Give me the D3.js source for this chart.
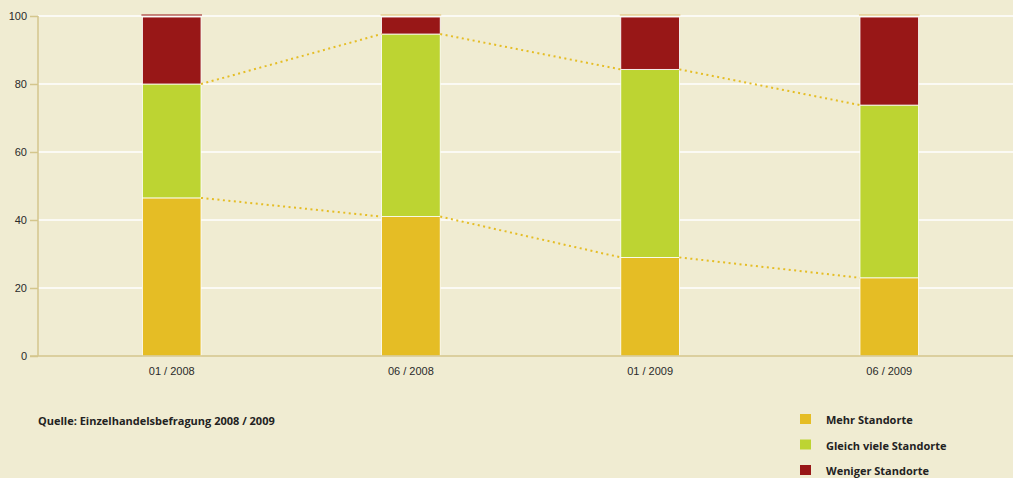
<!DOCTYPE html>
<html>
<head>
<meta charset="utf-8">
<script src="https://cdn.jsdelivr.net/npm/d3@7"></script>
<style>
  html, body { margin: 0; padding: 0; background: #f0ecd2; }
  #chart { width: 1013px; height: 478px; }
</style>
</head>
<body>
<div id="chart"></div>
<script>
// données
const periods = ["01/2008", "06/2008", "01/2009", "06/2009"];
const mehr = [46.5, 41, 29, 23];
const gleich = [33.5, 53.7, 55.3, 50.8];
const weniger = [19.7, 5, 15.4, 25.9];
const seriesNames = ["Mehr Standorte", "Gleich viele Standorte", "Weniger Standorte"];
const seriesColors = ["#e5bd25", "#bdd432", "#981717"];
const yTicks = [0, 20, 40, 60, 80, 100];
const source = "Quelle: Einzelhandelsbefragung 2008 / 2009";

const width = 1013, height = 478;
const margin = { top: 16, right: 4, bottom: 122, left: 38 };

const rows = periods.map((p, i) => ({ period: p, mehr: mehr[i], gleich: gleich[i], weniger: weniger[i] }));
const stack = d3.stack().keys(["mehr", "gleich", "weniger"])(rows);

const x = d3.scaleBand()
    .domain(periods)
    .range([52, 1009])
    .paddingInner(0.755)
    .paddingOuter(0.378);

const y = d3.scaleLinear()
    .domain([0, 100])
    .range([height - margin.bottom, margin.top]);

const svg = d3.select("#chart").append("svg")
    .attr("width", width)
    .attr("height", height)
    .style("font-family", "'Open Sans', sans-serif");

svg.append("rect").attr("width", width).attr("height", height).attr("fill", "#f0ecd2");

// grille
svg.append("g")
    .selectAll("line")
    .data(yTicks.filter(d => d > 0))
    .join("line")
    .attr("x1", margin.left)
    .attr("x2", width)
    .attr("y1", d => y(d))
    .attr("y2", d => y(d))
    .attr("stroke", "#fff")
    .attr("stroke-width", 1.5);

// barres empilées
svg.append("g")
    .selectAll("g")
    .data(stack)
    .join("g")
    .attr("fill", (d, i) => seriesColors[i])
    .selectAll("rect")
    .data(d => d)
    .join("rect")
    .attr("x", d => x(d.data.period))
    .attr("y", d => y(d[1]))
    .attr("width", x.bandwidth())
    .attr("height", d => y(d[0]) - y(d[1]))
    .attr("stroke", "#fff")
    .attr("stroke-width", 0.8);

// fine ligne au-dessus des barres
svg.append("g")
    .selectAll("line")
    .data(periods)
    .join("line")
    .attr("x1", d => x(d) - 1)
    .attr("x2", d => x(d) + x.bandwidth() + 1)
    .attr("y1", y(100) - 1)
    .attr("y2", y(100) - 1)
    .attr("stroke", (d, i) => i === 0 ? "#981717" : "#e0c070")
    .attr("stroke-width", 1);

// lignes pointillées entre les barres
const dotted = [stack[0], stack[1]];
dotted.forEach(layer => {
    for (let i = 0; i < layer.length - 1; i++) {
        const a = layer[i], b = layer[i + 1];
        svg.append("line")
            .attr("x1", x(a.data.period) + x.bandwidth())
            .attr("y1", y(a[1]))
            .attr("x2", x(b.data.period))
            .attr("y2", y(b[1]))
            .attr("stroke", "#e5bd25")
            .attr("stroke-width", 2)
            .attr("stroke-dasharray", "2 3.5");
    }
});

// axes
const axisColor = "#d4c68c";
const yAxis = svg.append("g")
    .attr("transform", `translate(${margin.left},0)`)
    .call(d3.axisLeft(y).tickValues(yTicks).tickSize(8).tickPadding(3));
yAxis.select(".domain").attr("stroke", axisColor).attr("stroke-width", 1.5).attr("d", `M0,${y(100)}V${y(0)}`);
yAxis.selectAll(".tick line").attr("stroke", axisColor).attr("stroke-width", 1.5);
yAxis.selectAll("text").style("font-size", "11px").attr("fill", "#2a2a2a");

const xAxis = svg.append("g")
    .attr("transform", `translate(0,${y(0)})`)
    .call(d3.axisBottom(x).tickSize(0).tickPadding(11).tickFormat(d => d.replace("/", " / ")));
xAxis.select(".domain").attr("stroke", axisColor).attr("stroke-width", 1.5).attr("d", `M${margin.left - 8},0H${width}`);
xAxis.selectAll("text").style("font-size", "11px").attr("fill", "#2a2a2a");

// source
svg.append("text")
    .attr("x", 38)
    .attr("y", 425)
    .text(source)
    .style("font-size", "11px")
    .style("font-weight", "700")
    .attr("fill", "#222");

// légende
const legend = svg.append("g").attr("transform", "translate(800,414)");
seriesNames.forEach((name, i) => {
    const row = legend.append("g").attr("transform", `translate(0,${i * 25.5})`);
    row.append("rect").attr("width", 11).attr("height", 10).attr("fill", seriesColors[i]);
    row.append("text")
        .attr("x", 26)
        .attr("y", 10)
        .text(name)
        .style("font-size", "11px")
        .style("font-weight", "700")
        .attr("fill", "#222");
});
</script>
</body>
</html>
